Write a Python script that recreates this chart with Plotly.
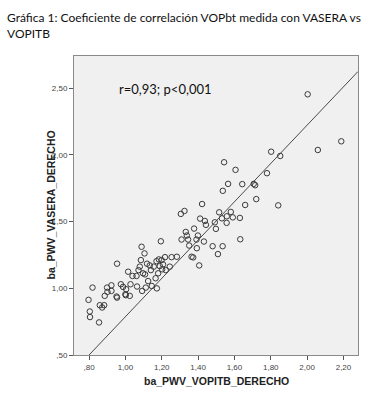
import plotly.graph_objects as go

# Data (ba_PWV_VOPITB_DERECHO vs ba_PWV_VASERA_DERECHO)
vopitb = [0.797, 0.804, 0.805, 0.819, 0.855, 0.859, 0.872, 0.883, 0.886, 0.899,
          0.901, 0.923, 0.923, 0.951, 0.954, 0.954, 0.975, 0.987, 1.000, 1.002,
          1.004, 1.015, 1.024, 1.028, 1.039, 1.061, 1.064, 1.072, 1.079, 1.085,
          1.089, 1.092, 1.097, 1.105, 1.108, 1.112, 1.119, 1.125, 1.134, 1.140,
          1.145, 1.156, 1.166, 1.171, 1.173, 1.180, 1.184, 1.189, 1.195, 1.199,
          1.202, 1.207, 1.218, 1.222, 1.244, 1.254, 1.283, 1.305, 1.309, 1.325,
          1.332, 1.338, 1.345, 1.351, 1.364, 1.373, 1.378, 1.391, 1.393, 1.399,
          1.406, 1.411, 1.422, 1.432, 1.437, 1.443, 1.480, 1.492, 1.498, 1.509,
          1.516, 1.531, 1.535, 1.536, 1.543, 1.557, 1.558, 1.565, 1.580, 1.591,
          1.606, 1.630, 1.632, 1.643, 1.659, 1.706, 1.714, 1.720, 1.779, 1.802,
          1.841, 1.852, 2.003, 2.059, 2.188]
vasera = [0.913, 0.826, 0.784, 1.005, 0.744, 0.873, 0.856, 0.873, 0.943, 1.005,
          0.973, 1.022, 0.980, 0.938, 0.930, 1.184, 1.030, 1.010, 0.955, 0.948,
          0.993, 1.124, 0.943, 1.030, 1.092, 1.092, 1.013, 1.136, 1.162, 1.211,
          1.311, 0.980, 1.112, 1.261, 1.104, 1.005, 1.184, 1.054, 1.171, 1.136,
          1.017, 1.162, 1.075, 1.203, 0.999, 1.112, 1.216, 1.166, 1.352, 1.211,
          1.142, 1.179, 1.233, 1.136, 1.162, 1.233, 1.236, 1.557, 1.365, 1.579,
          1.422, 1.395, 1.365, 1.320, 1.236, 1.231, 1.447, 1.365, 1.300, 1.395,
          1.171, 1.522, 1.631, 1.350, 1.504, 1.475, 1.315, 1.494, 1.445, 1.256,
          1.569, 1.524, 1.315, 1.730, 1.944, 1.490, 1.539, 1.782, 1.572, 1.531,
          1.887, 1.527, 1.367, 1.780, 1.624, 1.782, 1.772, 1.668, 1.862, 2.023,
          1.621, 1.991, 2.453, 2.036, 2.101]

# Fit line parameters (as shown in the reference)
fit_slope = 1.435
fit_intercept = -0.648

x_range = [0.717, 2.28]
y_range = [0.5, 2.74]

x_tickvals = [0.8, 1.0, 1.2, 1.4, 1.6, 1.8, 2.0, 2.2]
x_ticktext = [",80", "1,00", "1,20", "1,40", "1,60", "1,80", "2,00", "2,20"]
y_tickvals = [0.5, 1.0, 1.5, 2.0, 2.5]
y_ticktext = [",50", "1,00", "1,50", "2,00", "2,50"]

title_text = "Gráfica 1: Coeficiente de correlación VOPbt medida con VASERA vs<br>VOPITB"
annot_text = "r=0,93; p<0,001"
x_title = "ba_PWV_VOPITB_DERECHO"
y_title = "ba_PWV_VASERA_DERECHO"

W, H = 388, 396
ML, MR, MT, MB = 74, 30, 56, 41
PW, PH = W - ML - MR, H - MT - MB

fig = go.Figure()

fit_x = [x_range[0], x_range[1]]
fit_y = [fit_intercept + fit_slope * v for v in fit_x]
fig.add_trace(go.Scatter(x=fit_x, y=fit_y, mode="lines",
                         line=dict(color="#4a4a4a", width=1),
                         hoverinfo="skip", showlegend=False))

fig.add_trace(go.Scatter(x=vopitb, y=vasera, mode="markers",
                         marker=dict(symbol="circle-open", size=5.5,
                                     color="#3a3a3a", line=dict(width=1)),
                         showlegend=False))

fig.add_annotation(x=0.955, y=2.49, xref="x", yref="y", text=annot_text,
                   showarrow=False, xanchor="left", yanchor="middle",
                   font=dict(family="Lato", size=13, color="#111111"))

# Chart title (two lines, top-left)
fig.add_annotation(x=(5 - ML) / PW, y=1 + (MT - 8) / PH, xref="paper", yref="paper",
                   text=title_text, showarrow=False, xanchor="left", yanchor="top",
                   align="left",
                   font=dict(family="Lato", size=12, color="#111111"))

# Axis titles
axis_title_font = dict(family="Liberation Sans Narrow, Liberation Sans", size=10.5, color="#222222")
fig.add_annotation(x=0.5, y=-(381 - (H - MB)) / PH, xref="paper", yref="paper",
                   text="<b>" + x_title + "</b>", showarrow=False,
                   xanchor="center", yanchor="middle", font=axis_title_font)
fig.add_annotation(x=(50 - ML) / PW, y=0.5, xref="paper", yref="paper",
                   text="<b>" + y_title + "</b>", showarrow=False, textangle=-90,
                   xanchor="center", yanchor="middle", font=axis_title_font)

axis_common = dict(showgrid=False, zeroline=False, showline=True, mirror=True,
                   linecolor="#8a8a8a", linewidth=1, ticks="outside",
                   ticklen=4, tickcolor="#555555", automargin=False,
                   tickfont=dict(family="Liberation Sans Narrow, Arial Narrow, Liberation Sans",
                                 size=8, color="#444444"))

fig.update_xaxes(range=x_range, tickmode="array", tickvals=x_tickvals,
                 ticktext=x_ticktext, **axis_common)
fig.update_yaxes(range=y_range, tickmode="array", tickvals=y_tickvals,
                 ticktext=y_ticktext, **axis_common)

fig.update_layout(
    width=W, height=H,
    margin=dict(l=ML, r=MR, t=MT, b=MB, autoexpand=False),
    paper_bgcolor="white", plot_bgcolor="#f0f0f0",
)

fig.write_html("out.html", config={"displayModeBar": False},
               post_script="document.body.style.margin='0';")
